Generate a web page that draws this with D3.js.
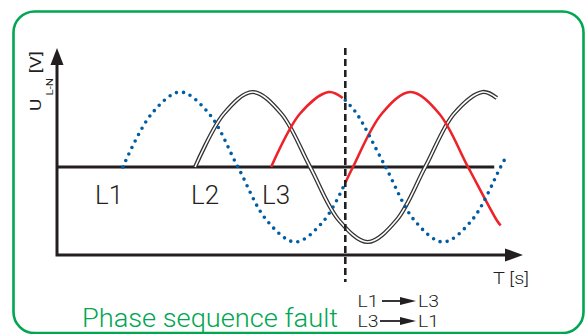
<!DOCTYPE html>
<html>
<head>
<meta charset="utf-8">
<script src="https://cdn.jsdelivr.net/npm/d3@7"></script>
<style>
  html, body { margin: 0; padding: 0; background: #fff; }
  svg { display: block; }
  text { font-family: Roboto, "Liberation Sans", sans-serif; font-weight: 300; }
</style>
</head>
<body>
<svg id="chart" width="587" height="334"></svg>
<script>
// phase angle of L1 (degrees) at y axis and at x-axis arrow tip
var tRange = [-103, 626];
var vRange = [-1, 1];
var zeroEnd = 581;       // where the 0 V line stops
var faultT = 348;        // moment of the phase swap

// [t, v]
var l1Before = [[0,0],[45,0.71],[90,1],[135,0.71],[180,0],[225,-0.71],[270,-1],[315,-0.71],[348,-0.21]];
var l1After  = [[348,0.89],[366,0.71],[411,0],[456,-0.71],[501,-1],[546,-0.71],[591,0],[601,0.16]];
var l2Wave   = [[113,0],[158,0.71],[203,1],[248,0.71],[293,0],[338,-0.71],[383,-1],[428,-0.71],[473,0],[518,0.71],[563,1],[585,0.92]];
var l3Before = [[232,0],[277,0.71],[322,1],[344,0.92]];
var l3After  = [[348,-0.21],[360,0],[405,0.71],[450,1],[495,0.71],[540,0],[585,-0.71],[591,-0.78]];

var phaseLabels = ["L1", "L2", "L3"];
var phaseLabelX = [95, 191, 262];
var swapRows = [["L1", "L3"], ["L3", "L1"]];

var INK = "#231f20";
var GREEN = "#00a651";
var BLUE = "#005ca3";
var RED = "#ee2229";

var svg = d3.select("#chart");

// frame
svg.append("rect")
    .attr("x", 13.5).attr("y", 11.5)
    .attr("width", 570).attr("height", 321.5)
    .attr("rx", 21).attr("ry", 21)
    .attr("fill", "none")
    .attr("stroke", GREEN)
    .attr("stroke-width", 2.6);

var x = d3.scaleLinear().domain(tRange).range([57, 523]);
var y = d3.scaleLinear().domain(vRange).range([242, 92]);
var axisY = 255, axisTop = 48;

var line = d3.line()
    .x(function(d) { return x(d[0]); })
    .y(function(d) { return y(d[1]); })
    .curve(d3.curveCatmullRom.alpha(0.5));

// axes
var x0 = x(tRange[0]), x1 = x(tRange[1]);
svg.append("path")
    .attr("d", "M" + x0 + "," + (axisTop + 14) + "V" + axisY + "H" + (x1 - 14))
    .attr("fill", "none")
    .attr("stroke", INK)
    .attr("stroke-width", 3)
    .attr("stroke-linejoin", "miter");
svg.append("path")
    .attr("d", "M" + x0 + "," + axisTop + "L" + (x0 - 6.5) + "," + (axisTop + 17) + "L" + (x0 + 6.5) + "," + (axisTop + 17) + "Z")
    .attr("fill", INK);
svg.append("path")
    .attr("d", "M" + x1 + "," + axisY + "L" + (x1 - 18) + "," + (axisY - 6.5) + "L" + (x1 - 18) + "," + (axisY + 6.5) + "Z")
    .attr("fill", INK);

// zero line
svg.append("line")
    .attr("x1", x0).attr("x2", x(zeroEnd))
    .attr("y1", y(0)).attr("y2", y(0))
    .attr("stroke", INK)
    .attr("stroke-width", 3);

// L2 : double line
svg.append("path").attr("d", line(l2Wave))
    .attr("fill", "none").attr("stroke", "#333").attr("stroke-width", 4.2);
svg.append("path").attr("d", line(l2Wave))
    .attr("fill", "none").attr("stroke", "#fff").attr("stroke-width", 1.6);

// L3 : red
[l3Before, l3After].forEach(function(seg) {
    svg.append("path").attr("d", line(seg))
        .attr("fill", "none").attr("stroke", RED).attr("stroke-width", 2.6);
});

// L1 : blue dots
[l1Before, l1After].forEach(function(seg) {
    svg.append("path").attr("d", line(seg))
        .attr("fill", "none").attr("stroke", BLUE)
        .attr("stroke-width", 3.6)
        .attr("stroke-linecap", "round")
        .attr("stroke-dasharray", "0 7.2");
});

// fault marker
svg.append("line")
    .attr("x1", x(faultT)).attr("x2", x(faultT))
    .attr("y1", axisTop).attr("y2", 282)
    .attr("stroke", INK)
    .attr("stroke-width", 2.6)
    .attr("stroke-dasharray", "7 4");

// phase labels
svg.selectAll("text.ph")
    .data(phaseLabels)
    .enter().append("text")
    .attr("class", "ph")
    .attr("x", function(d, i) { return phaseLabelX[i]; })
    .attr("y", 204)
    .attr("font-size", 26)
    .attr("fill", INK)
    .text(function(d) { return d; });

// y label
var yl = svg.append("g").attr("transform", "translate(41,111) rotate(-90) scale(1.35,1)")
    .style("font-weight", 400);
yl.append("text").attr("x", 0).attr("y", 0).attr("font-size", 14).attr("fill", INK).style("font-weight", 400).text("U");
yl.append("text").attr("x", 11.5).attr("y", 12.5).attr("font-size", 8.5).attr("fill", INK).style("font-weight", 400).text("L-N");
yl.append("text").attr("x", 28).attr("y", 0).attr("font-size", 14).attr("fill", INK).style("font-weight", 400).text("[V]");

// x label
svg.append("text")
    .attr("x", 493).attr("y", 284)
    .attr("font-size", 17)
    .attr("fill", INK)
    .attr("textLength", 36)
    .attr("lengthAdjust", "spacingAndGlyphs")
    .text("T [s]");

// title
svg.append("text")
    .attr("x", 82).attr("y", 327)
    .attr("font-size", 26)
    .attr("fill", GREEN)
    .attr("textLength", 256)
    .attr("lengthAdjust", "spacingAndGlyphs")
    .text("Phase sequence fault");

// swap legend
var rows = svg.selectAll("g.swap")
    .data(swapRows)
    .enter().append("g")
    .attr("class", "swap")
    .attr("transform", function(d, i) { return "translate(0," + (307 + i * 20) + ")"; });
rows.append("text")
    .attr("x", 357.5).attr("y", 0)
    .attr("font-size", 16.5).attr("fill", INK)
    .attr("textLength", 21)
    .attr("lengthAdjust", "spacingAndGlyphs")
    .text(function(d) { return d[0]; });
rows.append("line")
    .attr("x1", function(d, i) { return i ? 380 : 382; }).attr("x2", 402)
    .attr("y1", -6).attr("y2", -6)
    .attr("stroke", INK).attr("stroke-width", 1.8);
rows.append("path")
    .attr("d", "M416,-6L400,-10L400,-2Z")
    .attr("fill", INK);
rows.append("text")
    .attr("x", 418).attr("y", 0)
    .attr("font-size", 16.5).attr("fill", INK)
    .attr("textLength", 21)
    .attr("lengthAdjust", "spacingAndGlyphs")
    .text(function(d) { return d[1]; });
</script>
</body>
</html>
